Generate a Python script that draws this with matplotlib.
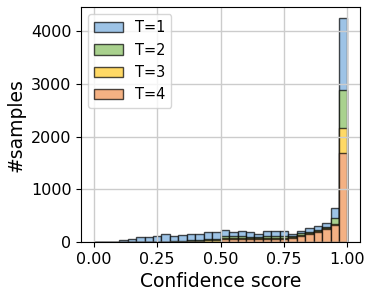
import matplotlib
matplotlib.use('Agg')
import matplotlib.pyplot as plt
import numpy as np

N_BINS = 30
bin_edges = np.linspace(0, 1, N_BINS + 1)

# counts per bin
counts_t1 = [0, 0, 5, 30, 57, 95, 95, 114, 150, 114, 133, 150, 145, 184, 184,
             225, 187, 205, 185, 150, 215, 215, 205, 155, 213, 263, 313, 370, 655, 4250]
counts_t2 = [0, 0, 0, 0, 0, 0, 0, 0, 10, 15, 25, 40, 45, 50, 60,
             115, 110, 115, 100, 100, 115, 115, 110, 115, 165, 197, 228, 292, 450, 2890]
counts_t3 = [0, 0, 0, 0, 0, 0, 0, 0, 0, 0, 0, 20, 25, 30, 35,
             80, 75, 80, 70, 70, 80, 80, 75, 95, 140, 165, 210, 265, 345, 2175]
counts_t4 = [0, 0, 0, 0, 0, 0, 0, 0, 0, 0, 0, 0, 0, 0, 0,
             57, 57, 57, 55, 50, 57, 57, 60, 83, 120, 145, 200, 250, 320, 1693]

labels = ['T=1', 'T=2', 'T=3', 'T=4']
colors = ['#9dc3e6', '#a9d18e', '#ffd966', '#f4b183']

fig, ax = plt.subplots(figsize=(3.74, 2.97), dpi=100)
fig.subplots_adjust(left=0.217, right=0.963, top=0.976, bottom=0.185)

centers = (bin_edges[:-1] + bin_edges[1:]) / 2
for counts, label, color in zip([counts_t1, counts_t2, counts_t3, counts_t4], labels, colors):
    ax.hist(centers, bins=bin_edges, weights=counts, color=color, label=label,
            edgecolor=(0, 0, 0, 0.7), linewidth=1)

ax.set_xticks([0, 0.25, 0.5, 0.75, 1.0])
ax.set_yticks([0, 1000, 2000, 3000, 4000])
ax.tick_params(labelsize=11.5)
ax.set_xlabel('Confidence score', fontsize=13.5)
ax.set_ylabel('#samples', fontsize=13.5)
ax.grid(color='#cccccc', linewidth=1)
ax.legend(loc='upper left', fontsize=10.5)

plt.savefig('out.png', dpi=100)
plt.close()
